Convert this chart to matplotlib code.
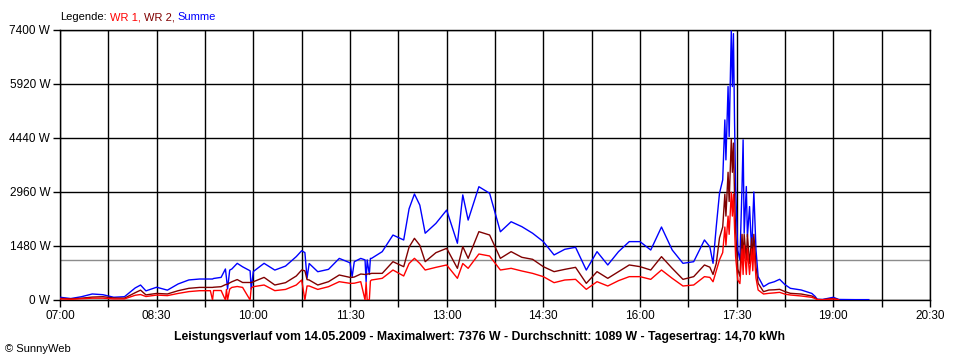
import numpy as np
import matplotlib
matplotlib.use("Agg")
import matplotlib.pyplot as plt

# Messzeitpunkte (Uhrzeit) und Leistung in W
zeit = ["07:00", "07:10", "07:20", "07:30", "07:40", "07:50",
        "08:00", "08:10", "08:15", "08:20", "08:30", "08:40", "08:50",
        "09:00", "09:10", "09:20", "09:22", "09:23", "09:30", "09:34", "09:35", "09:36",
        "09:38", "09:40", "09:45", "09:50", "09:57", "09:58",
        "10:00", "10:10", "10:20", "10:30", "10:40", "10:45", "10:48", "10:50", "10:52",
        "11:00", "11:10", "11:20", "11:30", "11:32", "11:34", "11:40", "11:44", "11:45",
        "11:46", "11:48", "11:49", "11:50",
        "12:00", "12:10", "12:20", "12:25", "12:30", "12:35", "12:40", "12:50",
        "13:00", "13:10", "13:15", "13:20", "13:30", "13:40", "13:50",
        "14:00", "14:10", "14:20", "14:30", "14:40", "14:50",
        "15:00", "15:10", "15:20", "15:30", "15:40", "15:50",
        "16:00", "16:10", "16:20", "16:30", "16:40", "16:50",
        "17:00", "17:05", "17:08", "17:11", "17:14", "17:17", "17:19", "17:20", "17:22",
        "17:23", "17:25", "17:26", "17:27", "17:28", "17:29", "17:31", "17:33", "17:35",
        "17:36", "17:37", "17:39", "17:40", "17:42", "17:44", "17:45", "17:46", "17:48",
        "17:50", "17:55",
        "18:00", "18:05", "18:10", "18:15", "18:20", "18:30", "18:40", "18:43", "18:45",
        "18:50", "19:00", "19:05", "19:20", "19:33"]

summe = [75, 40, 90, 165, 145, 75,
         90, 330, 410, 250, 350, 270, 440,
         550, 575, 575, 575, 590, 620, 850, 600, 300,
         820, 850, 1005, 910, 800, 300,
         780, 1005, 820, 930, 1190, 1350, 1300, 600, 1000,
         775, 840, 1140, 1020, 640, 1050, 1140, 1100, 500,
         1100, 700, 1140, 1140,
         1325, 1780, 1645, 2500, 2905, 2600, 1830, 2100,
         2465, 1555, 2880, 2190, 3105, 2925, 1870,
         2145, 2010, 1830, 1600, 1235, 1390,
         1445, 820, 1325, 960, 1325, 1600,
         1600, 1370, 2000, 1370, 1005, 1050,
         1645, 1460, 1005, 2010, 2924, 3290, 4935, 3840, 5850,
         4480, 7376, 5850, 7300, 4935, 3110, 1370, 1100, 3110,
         4390, 1830, 3110, 1736, 2560, 1280, 2190, 2960, 1370,
         640, 365,
         457, 500, 567, 420, 320, 275, 180, 100, 20,
         15, 75, 15, 10, 10]

wr2 = [45, 30, 50, 80, 90, 55,
       50, 200, 270, 140, 180, 165, 255,
       320, 345, 345, 345, 350, 365, 420, 430, 430,
       470, 500, 560, 480, 480, 475,
       500, 620, 411, 475, 658, 822, 800, 560, 548,
       411, 502, 685, 620, 620, 630, 712, 700, 700,
       710, 720, 720, 730,
       730, 1050, 913, 1450, 1690, 1500, 1050, 1297,
       1416, 868, 1462, 1142, 1873, 1781, 1142,
       1325, 1170, 1115, 913, 777, 840,
       895, 457, 777, 594, 777, 960,
       914, 822, 1188, 868, 566, 640,
       960, 900, 700, 1000, 1700, 2000, 2900, 2300, 3500,
       2700, 4400, 3500, 4300, 2900, 1900, 850, 650, 1800,
       1100, 1800, 1100, 1800, 1000, 1700, 1100, 1800, 900,
       457, 228,
       274, 280, 292, 230, 183, 164, 110, 60, 15,
       10, 40, 10, np.nan, np.nan]

wr1 = [30, 20, 35, 50, 50, 30,
       30, 130, 150, 95, 135, 120, 180,
       230, 255, 255, 0, 260, 260, 0, 290, 0,
       300, 345, 370, 345, 0, 330,
       365, 411, 256, 290, 411, 548, 0, 384, 384,
       290, 365, 502, 457, 457, 460, 502, 0, 480,
       0, 0, 520, 548,
       594, 822, 658, 1000, 1142, 1000, 822, 895,
       960, 594, 1000, 868, 1261, 1206, 822,
       868, 795, 730, 640, 475, 548,
       566, 292, 502, 384, 530, 640,
       640, 566, 822, 594, 384, 411,
       640, 620, 500, 800, 1100, 1300, 2000, 1500, 2300,
       1800, 2950, 2300, 2900, 2000, 1200, 550, 450, 1400,
       700, 1500, 700, 1400, 700, 1400, 800, 1450, 600,
       274, 164,
       183, 195, 210, 160, 137, 110, 73, 40, 10,
       5, 30, 5, np.nan, np.nan]

durchschnitt = 1089
x_ticks = ["07:00", "08:30", "10:00", "11:30", "13:00", "14:30", "16:00", "17:30", "19:00", "20:30"]
y_ticks = [0, 1480, 2960, 4440, 5920, 7400]


def stunden(s):
    h, m = s.split(":")
    return int(h) + int(m) / 60


t = np.array([stunden(s) for s in zeit])

plt.rcParams['font.family'] = ['Liberation Sans', 'DejaVu Sans']
fig = plt.figure(figsize=(9.6, 3.6), dpi=100)
ax = fig.add_axes([60 / 960, 1 - 300 / 360, 870 / 960, 270 / 360])

ax.axhline(durchschnitt, color="#8c8c8c", lw=1.0, zorder=1)
ax.plot(t, summe, color="#0000ff", lw=1.0, zorder=3)
ax.plot(t, wr2, color="#800000", lw=1.0, zorder=4)
ax.plot(t, wr1, color="#ff0000", lw=1.0, zorder=5)

ax.set_xlim(7, 20.5)
ax.set_ylim(0, 7400)
# Gitter alle 45 min, Beschriftung alle 90 min
ax.set_xticks(np.arange(7, 20.51, 0.75))
ax.set_xticklabels([x_ticks[j // 2] if j % 2 == 0 else "" for j in range(19)])
ax.set_yticks(y_ticks)
ax.set_yticklabels([f"{v} W" for v in y_ticks])
ax.grid(True, color="black", lw=1.0, zorder=2)
for sp in ax.spines.values():
    sp.set_linewidth(1.0)
ax.tick_params(length=5, width=1.0, pad=2, labelsize=8.5, direction="out")

# Legende oben links, farbig
teile = [("Legende:", "black"), ("WR 1,", "#ff0000"), ("WR 2,", "#800000"), ("Summe", "#0000ff")]
x0 = 60
fig.canvas.draw()
r = fig.canvas.get_renderer()
for s, c in teile:
    txt = fig.text(x0 / 960, 1 - 20 / 360, s, color=c, fontsize=8, va="baseline")
    x0 = txt.get_window_extent(r).x1 + 3

fig.text(480 / 960, 1 - 337 / 360,
         "Leistungsverlauf vom 14.05.2009 - Maximalwert: 7376 W - Durchschnitt: 1089 W - Tagesertrag: 14,70 kWh",
         ha="center", va="center", fontsize=8.8, fontweight="bold")
fig.text(5 / 960, 1 - 349 / 360, "© SunnyWeb", ha="left", va="center", fontsize=8)

fig.savefig("out.png", dpi=100)
